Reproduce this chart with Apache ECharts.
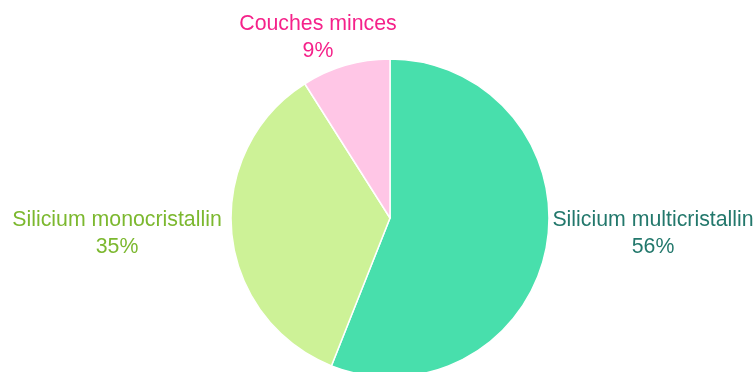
<!DOCTYPE html>
<html>
<head>
<meta charset="utf-8">
<script src="https://cdn.jsdelivr.net/npm/echarts@6/dist/echarts.min.js"></script>
<style>
  html, body { margin: 0; padding: 0; background: #ffffff; }
  #chart { width: 756px; height: 372px; }
</style>
</head>
<body>
<div id="chart"></div>
<script>
// Part de marché des technologies photovoltaïques (%)
const categories = ['Silicium multicristallin', 'Silicium monocristallin', 'Couches minces'];
const shares = [56, 35, 9];

// Slice fills and matching label colours
const sliceColors = ['#48dfac', '#cdf297', '#ffc6e6'];
const labelColors = ['#23786c', '#7cb82f', '#f5228a'];

// Label block centres (pixels), one per slice
const labelAnchors = [[653, 233.5], [117, 234], [318, 37.5]];

const chart = echarts.init(document.getElementById('chart'), null, { renderer: 'canvas' });

chart.setOption({
  backgroundColor: '#ffffff',
  animation: false,
  series: [{
    type: 'pie',
    center: [390, 218],
    radius: 159,
    startAngle: 90,
    clockwise: true,
    avoidLabelOverlap: false,
    itemStyle: { borderColor: '#ffffff', borderWidth: 1.5 },
    label: {
      show: true,
      position: 'outside',
      fontFamily: 'Liberation Sans, Arial, sans-serif',
      fontSize: 21.3,
      lineHeight: 27,
      align: 'center',
      formatter: p => p.name + '\n' + p.value + '%'
    },
    labelLine: { show: false },
    labelLayout: p => ({
      x: labelAnchors[p.dataIndex][0],
      y: labelAnchors[p.dataIndex][1],
      align: 'center',
      verticalAlign: 'middle'
    }),
    emphasis: { disabled: true },
    data: categories.map((name, i) => ({
      name: name,
      value: shares[i],
      itemStyle: { color: sliceColors[i] },
      label: { color: labelColors[i] }
    }))
  }]
});
</script>
</body>
</html>
